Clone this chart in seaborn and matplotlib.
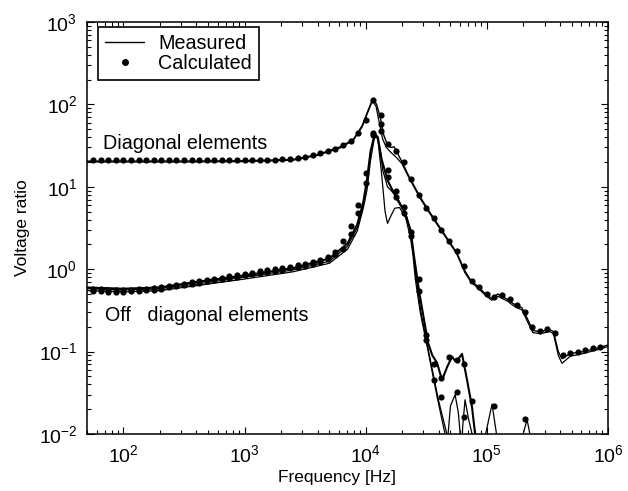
import numpy as np
import matplotlib.pyplot as plt
import seaborn as sns
from matplotlib.lines import Line2D

# frequencies of the calculated points (16 per decade, 56 Hz .. 866 kHz)
calc_freq = 10 ** (np.arange(28, 96) / 16)

nan = np.nan

diag_calc = [
    21, 21, 21, 21, 21, 21, 21, 21,
    21, 21, 21, 21, 21, 21, 21, 21,
    21, 21, 21, 21, 21, 21, 21, 21.2,
    21.3, 21.6, 22, 22.5, 23, 24, 25.5, 27,
    29, 32, 36, 45, 65, 112, 75, 33,
    27, 20, 12.5, 8, 5.6, 4.2, 3.0, 2.2,
    1.65, 1.1, 0.72, 0.6, 0.5, 0.46, 0.48, 0.43,
    0.37, 0.3, 0.2, 0.18, 0.19, 0.17, 0.09, 0.097,
    0.1, 0.105, 0.11, 0.115,
]

off_calc_a = [
    0.58, 0.57, 0.56, 0.56, 0.56, 0.56, 0.57, 0.58,
    0.59, 0.61, 0.63, 0.65, 0.67, 0.69, 0.72, 0.74,
    0.76, 0.79, 0.82, 0.85, 0.88, 0.91, 0.94, 0.97,
    1.0, 1.03, 1.07, 1.11, 1.16, 1.22, 1.3, 1.42,
    1.6, 2.2, 3.3, 6, 14.5, 42, 58, 13,
    7.5, 4.8, 2.5, 0.55, 0.16, 0.07, 0.048, 0.085,
    0.08, 0.07, 0.025, nan, nan, nan, nan, nan,
    nan, nan, nan, nan, nan, nan, nan, nan,
    nan, nan, nan, nan,
]

off_calc_b = [
    0.55, 0.54, 0.535, 0.535, 0.535, 0.54, 0.545, 0.555,
    0.565, 0.58, 0.6, 0.62, 0.64, 0.66, 0.685, 0.71,
    0.73, 0.755, 0.78, 0.81, 0.84, 0.87, 0.9, 0.93,
    0.96, 0.99, 1.02, 1.06, 1.1, 1.15, 1.22, 1.32,
    1.48, 1.75, 2.7, 4.8, 11, 45, 48, 16,
    9, 5.7, 2.8, 0.75, 0.14, 0.045, 0.028, nan,
    0.032, 0.016, nan, nan, nan, 0.022, nan, nan,
    nan, 0.015, nan, nan, nan, nan, nan, nan,
    nan, nan, nan, nan,
]

# measured curves: log10(frequency) and value
diag_a_logf = [1.69, 2.5, 3.0, 3.4, 3.6, 3.8, 3.9, 3.97, 4.02, 4.06,
               4.09, 4.12, 4.15, 4.18, 4.21, 4.235, 4.26, 4.30, 4.35, 4.45,
               4.53, 4.64, 4.75, 4.82, 4.87, 4.92, 4.99, 5.04, 5.09, 5.17,
               5.22, 5.29, 5.33, 5.38, 5.44, 5.52, 5.55, 5.59, 5.62, 5.69,
               5.80, 5.91, 6.0]
diag_a = [20.5, 20.5, 20.7, 21.5, 24.5, 31, 38, 55, 85, 118,
          100, 70, 42, 32, 30, 30.5, 26, 20, 14, 7.5,
          4.9, 2.8, 1.6, 0.95, 0.72, 0.63, 0.5, 0.44, 0.5, 0.43,
          0.38, 0.34, 0.26, 0.18, 0.175, 0.185, 0.175, 0.1, 0.082, 0.095,
          0.1, 0.11, 0.12]

diag_b_logf = [1.69, 2.5, 3.0, 3.4, 3.6, 3.8, 3.9, 3.97, 4.02, 4.055,
               4.085, 4.11, 4.14, 4.17, 4.21, 4.25, 4.30, 4.35, 4.45, 4.53,
               4.64, 4.75, 4.82, 4.87, 4.92, 4.99, 5.04, 5.09, 5.17, 5.22,
               5.29, 5.33, 5.38, 5.44, 5.52, 5.55, 5.59, 5.62, 5.69, 5.80,
               5.91, 6.0]
diag_b = [20, 20, 20.2, 21, 24, 30, 37, 53, 82, 110,
          95, 62, 38, 30, 26, 23, 19, 13.5, 7.2, 4.7,
          2.7, 1.55, 0.9, 0.7, 0.6, 0.48, 0.42, 0.47, 0.41, 0.36,
          0.32, 0.24, 0.17, 0.165, 0.175, 0.165, 0.09, 0.072, 0.088, 0.095,
          0.105, 0.115]

off_a_logf = [1.69, 2.0, 2.3, 2.6, 3.0, 3.4, 3.7, 3.85, 3.93, 3.98,
              4.01, 4.04, 4.075, 4.10, 4.13, 4.16, 4.18, 4.21, 4.24, 4.28,
              4.33, 4.37, 4.39, 4.41, 4.45, 4.51, 4.59, 4.655, 4.665, 4.68,
              4.70, 4.738, 4.765, 4.78, 4.79]
off_a = [0.58, 0.56, 0.58, 0.66, 0.8, 0.98, 1.25, 1.9, 3.2, 6,
         11, 26, 42, 38, 15, 5, 3.6, 4.5, 5.5, 5.6,
         4.2, 2.4, 1.5, 0.75, 0.3, 0.11, 0.028, 0.01, 0.004, 0.01,
         0.022, 0.03, 0.018, 0.01, 0.004]

off_b_logf = [1.69, 2.0, 2.3, 2.6, 3.0, 3.4, 3.7, 3.85, 3.93, 3.98,
              4.01, 4.04, 4.07, 4.09, 4.12, 4.14, 4.18, 4.26, 4.30, 4.34,
              4.37, 4.395, 4.415, 4.46, 4.52, 4.60, 4.67, 4.68, 4.79, 4.80,
              4.82, 4.85, 4.878, 4.89, 4.98, 4.99, 5.043, 5.08, 5.09, 5.29,
              5.30, 5.332, 5.355, 5.365, 6.0]
off_b = [0.55, 0.53, 0.55, 0.63, 0.76, 0.93, 1.18, 1.75, 2.9, 5.5,
         9, 21, 38, 42, 28, 16, 10, 7.5, 5.7, 4.3,
         2.8, 1.5, 0.8, 0.28, 0.1, 0.026, 0.01, 0.004, 0.004, 0.012,
         0.026, 0.015, 0.01, 0.004, 0.004, 0.01, 0.023, 0.01, 0.004, 0.004,
         0.01, 0.015, 0.01, 0.004, 0.004]

off_c_logf = [1.69, 2.0, 2.3, 2.6, 3.0, 3.4, 3.7, 3.85, 3.93, 3.98,
              4.01, 4.04, 4.075, 4.10, 4.13, 4.18, 4.26, 4.32, 4.37, 4.40,
              4.44, 4.48, 4.515, 4.55, 4.589, 4.63, 4.672, 4.713, 4.738, 4.762,
              4.795, 4.837, 4.878, 4.903, 4.92]
off_c = [0.6, 0.58, 0.6, 0.7, 0.84, 1.03, 1.35, 2.05, 3.5, 6.5,
         12, 27, 44, 40, 22, 12, 7, 5, 3, 1.4,
         0.55, 0.25, 0.127, 0.09, 0.073, 0.045, 0.065, 0.087, 0.077, 0.08,
         0.094, 0.045, 0.021, 0.01, 0.004]

sns.set_style('ticks')
plt.rcParams['font.family'] = ['Liberation Sans', 'DejaVu Sans']
plt.rcParams['axes.unicode_minus'] = False
for key in ['text.color', 'axes.labelcolor', 'xtick.color', 'ytick.color']:
    plt.rcParams[key] = 'black'

fig = plt.figure(figsize=(6.28, 4.91), dpi=100)
ax = fig.add_axes([0.1385, 0.1161, 0.8296, 0.8391])

measured = [
    (diag_a_logf, diag_a, 1.0),
    (diag_b_logf, diag_b, 0.9),
    (off_a_logf, off_a, 0.9),
    (off_b_logf, off_b, 0.9),
    (off_c_logf, off_c, 1.5),
]
for logf, vals, lw in measured:
    sns.lineplot(x=10 ** np.array(logf), y=vals, ax=ax, color='k', lw=lw,
                 estimator=None, sort=False)

for vals in [diag_calc, off_calc_a, off_calc_b]:
    sns.scatterplot(x=calc_freq, y=vals, ax=ax, color='k', s=20,
                    linewidth=0, legend=False)

ax.set_xscale('log')
ax.set_yscale('log')
ax.set_xlim(50, 1e6)
ax.set_ylim(1e-2, 1e3)

ax.text(67.7, 34, 'Diagonal elements', fontsize=14.2, va='center')
ax.text(70.5, 0.278, 'Off   diagonal elements', fontsize=14.2, va='center')

ax.set_xlabel('Frequency [Hz]', fontsize=12.5)
ax.set_ylabel('Voltage ratio', fontsize=12.5)
ax.xaxis.set_label_coords(0.48, -0.088)
ax.yaxis.set_label_coords(-0.11, 0.5)

ax.tick_params(which='both', direction='in', top=True, right=True,
               width=0.8, labelsize=14)
ax.tick_params(which='major', length=5, pad=7)
ax.tick_params(which='minor', length=3)
for sp in ax.spines.values():
    sp.set_linewidth(1.1)
    sp.set_color('k')

handles = [Line2D([], [], color='k', lw=1.0),
           Line2D([], [], ls='none', marker='o', ms=4, color='k')]
leg = ax.legend(handles, ['Measured', 'Calculated'], loc='upper left',
                bbox_to_anchor=(0.021, 0.988), borderaxespad=0,
                fontsize=14.2, fancybox=False, framealpha=1,
                edgecolor='k', handlelength=2.0, handletextpad=0.7,
                labelspacing=0.05, borderpad=0.35)
leg.get_frame().set_linewidth(1.2)

plt.savefig('out.png', dpi=100)
